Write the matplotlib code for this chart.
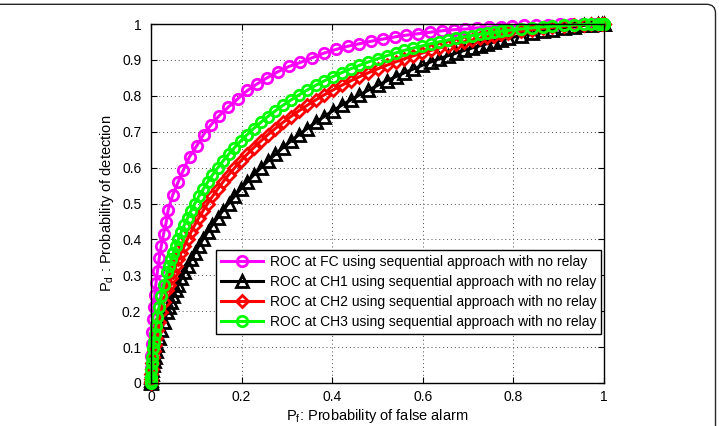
import matplotlib
matplotlib.use('Agg')
import matplotlib.pyplot as plt
from matplotlib.patches import FancyBboxPatch
from matplotlib.ticker import FormatStrFormatter

plt.rcParams['font.family'] = ['Liberation Sans', 'DejaVu Sans']
plt.rcParams['mathtext.fontset'] = 'custom'
plt.rcParams['mathtext.rm'] = 'Liberation Sans'
plt.rcParams['mathtext.it'] = 'Liberation Sans:italic'
plt.rcParams['mathtext.default'] = 'regular'

# ROC en el centro de fusion (FC)
pf_fc = [0, 0.0003, 0.0008, 0.0017, 0.0028, 0.0043, 0.0062, 0.0084, 0.0111, 0.0144,
         0.0181, 0.0226, 0.0277, 0.0338, 0.038, 0.048, 0.060, 0.071, 0.085, 0.101,
         0.116, 0.133, 0.151, 0.171, 0.192, 0.213, 0.234, 0.256, 0.280, 0.305,
         0.330, 0.356, 0.382, 0.408, 0.434, 0.460, 0.486, 0.512, 0.538, 0.564,
         0.590, 0.616, 0.642, 0.668, 0.694, 0.720, 0.746, 0.772, 0.798, 0.824,
         0.850, 0.876, 0.902, 0.928, 0.954, 0.980, 1.0]
pd_fc = [0, 0.041, 0.075, 0.109, 0.143, 0.177, 0.211, 0.245, 0.279, 0.313,
         0.347, 0.381, 0.415, 0.449, 0.483, 0.524, 0.560, 0.592, 0.630, 0.661,
         0.692, 0.720, 0.745, 0.769, 0.792, 0.815, 0.833, 0.850, 0.867, 0.882,
         0.893, 0.906, 0.919, 0.929, 0.938, 0.945, 0.952, 0.958, 0.964, 0.969,
         0.973, 0.977, 0.981, 0.984, 0.986, 0.989, 0.991, 0.993, 0.994, 0.996,
         0.997, 0.998, 0.999, 0.999, 1.000, 1.000, 1.000]

# ROC en los cluster heads (CH1, CH2, CH3)
pf_ch = [0, 0.0001, 0.0003, 0.0010, 0.0019, 0.0030, 0.0047, 0.0062, 0.0082, 0.0107, 0.0139,
         0.0179, 0.0228, 0.0287, 0.0359, 0.0401, 0.0446, 0.0495, 0.0548, 0.0606, 0.0668,
         0.0735, 0.0808, 0.0885, 0.0968, 0.1056, 0.1151, 0.1251, 0.1357, 0.1469, 0.1587,
         0.1711, 0.1841, 0.1977, 0.2119, 0.2266, 0.2420, 0.2578, 0.2743, 0.2912, 0.3085,
         0.3264, 0.3446, 0.3632, 0.3821, 0.4013, 0.4207, 0.4404, 0.4602, 0.4801, 0.5000,
         0.5199, 0.5398, 0.5596, 0.5793, 0.5987, 0.6179, 0.6368, 0.6554, 0.6736, 0.6915,
         0.7088, 0.7257, 0.7422, 0.7580, 0.7734, 0.7881, 0.8159, 0.8413, 0.8643, 0.8849,
         0.9115, 0.9332, 0.9554, 0.9713, 0.9861, 0.9953, 0.9993, 1.0]
pd_ch1 = [0, 0.0022, 0.0071, 0.0158, 0.0256, 0.0359, 0.0495, 0.0606, 0.0735, 0.0885, 0.1056,
          0.1251, 0.1469, 0.1711, 0.1977, 0.2119, 0.2266, 0.2420, 0.2578, 0.2743, 0.2912,
          0.3085, 0.3264, 0.3446, 0.3632, 0.3821, 0.4013, 0.4207, 0.4404, 0.4602, 0.4801,
          0.5000, 0.5199, 0.5398, 0.5596, 0.5793, 0.5987, 0.6179, 0.6368, 0.6554, 0.6736,
          0.6915, 0.7088, 0.7257, 0.7422, 0.7580, 0.7734, 0.7881, 0.8023, 0.8159, 0.8289,
          0.8413, 0.8531, 0.8643, 0.8749, 0.8849, 0.8944, 0.9032, 0.9115, 0.9192, 0.9265,
          0.9332, 0.9394, 0.9452, 0.9505, 0.9554, 0.9599, 0.9678, 0.9744, 0.9798, 0.9842,
          0.9893, 0.9929, 0.9960, 0.9978, 0.9992, 0.9998, 1.0, 1.0]
pd_ch2 = [0, 0.0040, 0.0122, 0.0256, 0.0401, 0.0548, 0.0735, 0.0885, 0.1056, 0.1251, 0.1469,
          0.1711, 0.1977, 0.2266, 0.2578, 0.2743, 0.2912, 0.3085, 0.3264, 0.3446, 0.3632,
          0.3821, 0.4013, 0.4207, 0.4404, 0.4602, 0.4801, 0.5000, 0.5199, 0.5398, 0.5596,
          0.5793, 0.5987, 0.6179, 0.6368, 0.6554, 0.6736, 0.6915, 0.7088, 0.7257, 0.7422,
          0.7580, 0.7734, 0.7881, 0.8023, 0.8159, 0.8289, 0.8413, 0.8531, 0.8643, 0.8749,
          0.8849, 0.8944, 0.9032, 0.9115, 0.9192, 0.9265, 0.9332, 0.9394, 0.9452, 0.9505,
          0.9554, 0.9599, 0.9641, 0.9678, 0.9713, 0.9744, 0.9798, 0.9842, 0.9878, 0.9906,
          0.9938, 0.9960, 0.9978, 0.9989, 0.9996, 0.9999, 1.0, 1.0]
pd_ch3 = [0, 0.0062, 0.0179, 0.0359, 0.0548, 0.0735, 0.0968, 0.1151, 0.1357, 0.1587, 0.1841,
          0.2119, 0.2420, 0.2743, 0.3085, 0.3264, 0.3446, 0.3632, 0.3821, 0.4013, 0.4207,
          0.4404, 0.4602, 0.4801, 0.5000, 0.5199, 0.5398, 0.5596, 0.5793, 0.5987, 0.6179,
          0.6368, 0.6554, 0.6736, 0.6915, 0.7088, 0.7257, 0.7422, 0.7580, 0.7734, 0.7881,
          0.8023, 0.8159, 0.8289, 0.8413, 0.8531, 0.8643, 0.8749, 0.8849, 0.8944, 0.9032,
          0.9115, 0.9192, 0.9265, 0.9332, 0.9394, 0.9452, 0.9505, 0.9554, 0.9599, 0.9641,
          0.9678, 0.9713, 0.9744, 0.9772, 0.9798, 0.9821, 0.9861, 0.9893, 0.9918, 0.9938,
          0.9960, 0.9974, 0.9987, 0.9993, 0.9998, 1.0, 1.0, 1.0]

labels = ['ROC at FC using sequential approach with no relay',
          'ROC at CH1 using sequential approach with no relay',
          'ROC at CH2 using sequential approach with no relay',
          'ROC at CH3 using sequential approach with no relay']

fig = plt.figure(figsize=(7.19, 4.26), dpi=100)
ax = fig.add_axes([151 / 719, 43 / 426, 453 / 719, 359 / 426])

series = [
    (pf_fc, pd_fc, '#ff00ff', 'o', 7.5),
    (pf_ch, pd_ch1, 'black', '^', 8.0),
    (pf_ch, pd_ch2, '#ff0000', 'D', 6.0),
    (pf_ch, pd_ch3, '#00ff00', 'o', 7.5),
]
for (x, y, c, m, ms), lab in zip(series, labels):
    ax.plot(x, y, color=c, marker=m, markersize=ms, markerfacecolor='none',
            markeredgewidth=2.0, linewidth=2.2, clip_on=False, label=lab)

ax.set_xlim(0, 1)
ax.set_ylim(0, 1)
ax.set_xticks([0, 0.2, 0.4, 0.6, 0.8, 1])
ax.set_yticks([0, 0.1, 0.2, 0.3, 0.4, 0.5, 0.6, 0.7, 0.8, 0.9, 1])
ax.xaxis.set_major_formatter(FormatStrFormatter('%g'))
ax.yaxis.set_major_formatter(FormatStrFormatter('%g'))
ax.tick_params(direction='in', top=True, right=True, length=4, width=0.8,
               labelsize=10)
ax.tick_params(axis='y', pad=7)
ax.tick_params(axis='x', pad=5)
ax.grid(True, linestyle=(0, (1, 3)), color='0.3', linewidth=0.7)
for s in ax.spines.values():
    s.set_linewidth(1.0)

ax.set_xlabel('P$_f$: Probability of false alarm', fontsize=10.5)
ax.set_ylabel('P$_d$ : Probability of detection', fontsize=10.5)
ax.xaxis.set_label_coords(0.5, -0.066)
ax.yaxis.set_label_coords(-0.078, 0.5)

leg = ax.legend(loc='lower right', bbox_to_anchor=(0.994, 0.136), fontsize=10,
                frameon=True, fancybox=False, edgecolor='black', framealpha=1,
                handlelength=3, labelspacing=0.45, borderpad=0.35,
                handletextpad=0.5, borderaxespad=0)
leg.get_frame().set_linewidth(1.0)

# Marco redondeado alrededor de la figura
marco = FancyBboxPatch((-0.6, -0.6), 7.755, 4.817,
                       boxstyle='round,pad=0,rounding_size=0.09',
                       transform=fig.dpi_scale_trans, fill=False,
                       edgecolor='0.15', linewidth=1.0)
fig.add_artist(marco)

fig.savefig('out.png', dpi=100)
